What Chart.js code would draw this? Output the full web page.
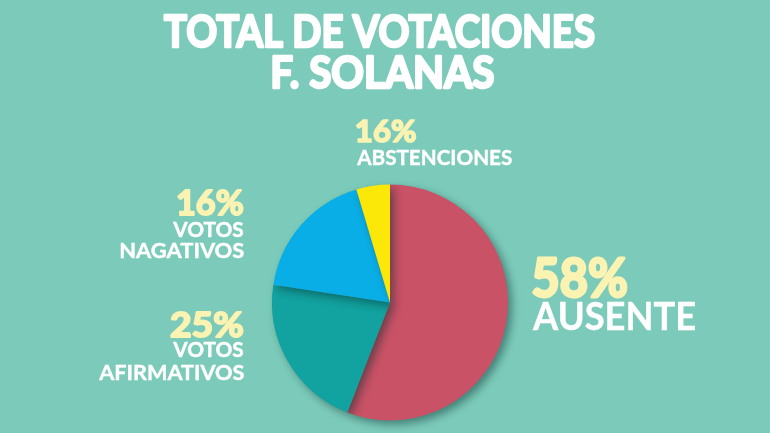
<!DOCTYPE html>
<html lang="es">
<head>
<meta charset="UTF-8">
<title>Total de votaciones F. Solanas</title>
<script src="https://cdn.jsdelivr.net/npm/chart.js"></script>
<style>
  html, body { margin: 0; padding: 0; background: #7ccbba; }
  #wrap { width: 770px; height: 433px; position: relative; }
</style>
</head>
<body>
<div id="wrap"><canvas id="pie"></canvas></div>
<script>
// datos
const categorias = ['AUSENTE', 'VOTOS AFIRMATIVOS', 'VOTOS NAGATIVOS', 'ABSTENCIONES'];
const valores = [55.9, 21.5, 18.0, 4.6];          // tamaño de cada porcion
const porcentajes = ['58%', '25%', '16%', '16%'];  // texto impreso junto a cada porcion
const colores = ['#c95266', '#12a29f', '#0aaee6', '#fbe808'];
const titulo = ['TOTAL DE VOTACIONES', 'F. SOLANAS'];

// posicion de cada rotulo (borde, linea base, ancho y tamaño de cada linea)
const rotulos = [
  { x: 532, align: 'left',  pct: [297, 54, 96], lineas: [[330, 39, 163]] },
  { x: 244, align: 'right', pct: [337, 35, 74], lineas: [[357, 20, 72], [380, 21, 146]] },
  { x: 244, align: 'right', pct: [215, 35, 67], lineas: [[237, 20, 72], [258, 21, 124]] },
  { x: 356, align: 'left',  pct: [142, 31, 61], lineas: [[165, 21, 156]] }
];

const sombra = {
  id: 'sombra',
  beforeDatasetsDraw(chart) {
    const ctx = chart.ctx;
    ctx.save();
    ctx.shadowColor = 'rgba(0, 40, 40, 0.45)';
    ctx.shadowBlur = 9;
    ctx.shadowOffsetX = 4;
    ctx.shadowOffsetY = 4;
  },
  afterDatasetsDraw(chart) {
    chart.ctx.restore();
  }
};

// escribe un texto ajustado al ancho que tiene en la imagen
function escribir(ctx, texto, x, y, align, size, ancho, color, grosor) {
  ctx.save();
  ctx.font = 'bold ' + size + 'px Lato, "DejaVu Sans", sans-serif';
  ctx.textAlign = 'left';
  ctx.textBaseline = 'alphabetic';
  const m = ctx.measureText(texto);
  const w = m.actualBoundingBoxRight + m.actualBoundingBoxLeft + grosor;
  const sx = ancho / w;
  let x0 = x;
  if (align === 'right') x0 = x - ancho;
  if (align === 'center') x0 = x - ancho / 2;
  ctx.translate(x0, y);
  ctx.scale(sx, 1);
  ctx.fillStyle = color;
  ctx.fillText(texto, m.actualBoundingBoxLeft + grosor / 2, 0);
  if (grosor > 0) {
    ctx.strokeStyle = color;
    ctx.lineWidth = grosor;
    ctx.lineJoin = 'round';
    ctx.strokeText(texto, m.actualBoundingBoxLeft + grosor / 2, 0);
  }
  ctx.restore();
}

const textos = {
  id: 'textos',
  afterDraw(chart) {
    const ctx = chart.ctx;
    escribir(ctx, titulo[0], 379, 47, 'center', 44, 432, '#ffffff', 2.5);
    escribir(ctx, titulo[1], 383.5, 88, 'center', 43, 223, '#ffffff', 2.5);
    rotulos.forEach((r, i) => {
      escribir(ctx, porcentajes[i], r.x, r.pct[0], r.align, r.pct[1], r.pct[2], '#fbf3b2', r.pct[1] / 18);
      r.lineas.forEach((l, k) => {
        const palabras = categorias[i].split(' ');
        const texto = r.lineas.length > 1 ? palabras[k] : categorias[i];
        escribir(ctx, texto, r.x, l[0], r.align, l[1], l[2], '#ffffff', 0.4);
      });
    });
  }
};

new Chart(document.getElementById('pie'), {
  type: 'pie',
  data: {
    labels: categorias,
    datasets: [{
      data: valores,
      backgroundColor: colores,
      borderWidth: 0
    }]
  },
  options: {
    responsive: true,
    maintainAspectRatio: false,
    animation: false,
    layout: { padding: { top: 184.5, bottom: 12.5, left: 272, right: 262 } },
    plugins: {
      legend: { display: false },
      tooltip: { enabled: false },
      title: { display: false }
    }
  },
  plugins: [sombra, textos]
});
</script>
</body>
</html>
